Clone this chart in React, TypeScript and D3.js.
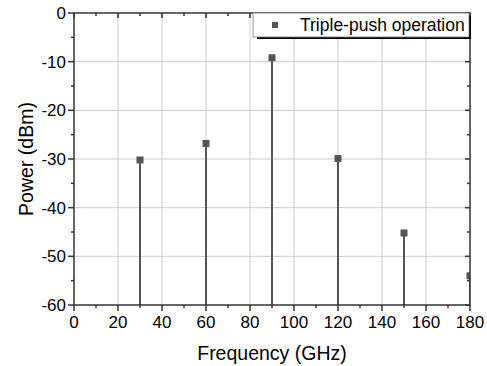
import React from "react";
import * as d3 from "d3";

const frequencies = [30, 60, 90, 120, 150, 180];
const powers = [-30.2, -26.8, -9.2, -29.9, -45.2, -54.0];
const xTicks = [0, 20, 40, 60, 80, 100, 120, 140, 160, 180];
const yTicks = [0, -10, -20, -30, -40, -50, -60];
const seriesName = "Triple-push operation";

export default function App() {
  const W = 487, H = 366;
  const L = 74, R = 470, T = 13, B = 305;
  const x = d3.scaleLinear().domain([0, 180]).range([L, R]);
  const y = d3.scaleLinear().domain([0, -60]).range([T, B]);
  const xMinor = d3.range(10, 180, 20);
  const yMinor = d3.range(-5, -60, -10);
  const axisColor = "#333";
  const markColor = "#555";
  const font = "Arial, 'Liberation Sans', sans-serif";
  return (
    <svg width={W} height={H} style={{ position: "absolute", left: 0, top: 0 }} fontFamily={font}>
      <rect width={W} height={H} fill="white" />
      <defs>
        <clipPath id="plotclip">
          <rect x={L} y={T} width={R - L} height={B - T} />
        </clipPath>
      </defs>
      {/* grid */}
      {xTicks.filter(t => t > 0 && t < 180).map(t => (
        <line key={"gx" + t} x1={x(t)} x2={x(t)} y1={T} y2={B} stroke="#cccccc" strokeWidth={1} />
      ))}
      {yTicks.filter(t => t < 0 && t > -60).map(t => (
        <line key={"gy" + t} x1={L} x2={R} y1={y(t)} y2={y(t)} stroke="#cccccc" strokeWidth={1} />
      ))}
      {/* stems */}
      <g clipPath="url(#plotclip)">
        {frequencies.map((f, i) => (
          <line key={"s" + f} x1={x(f)} x2={x(f)} y1={B} y2={y(powers[i])} stroke={markColor} strokeWidth={2} />
        ))}
        {frequencies.map((f, i) => (
          <rect key={"m" + f} x={x(f) - 3.5} y={y(powers[i]) - 3.5} width={7} height={7} fill={markColor} />
        ))}
      </g>
      {/* frame */}
      <rect x={L} y={T} width={R - L} height={B - T} fill="none" stroke={axisColor} strokeWidth={1.5} />
      {/* bottom ticks (outward) */}
      {xTicks.map(t => (
        <line key={"bt" + t} x1={x(t)} x2={x(t)} y1={B} y2={B + 6} stroke={axisColor} strokeWidth={1.5} />
      ))}
      {xMinor.map(t => (
        <line key={"bm" + t} x1={x(t)} x2={x(t)} y1={B} y2={B + 3} stroke={axisColor} strokeWidth={1.5} />
      ))}
      {/* top ticks (inward) */}
      {xTicks.map(t => (
        <line key={"tt" + t} x1={x(t)} x2={x(t)} y1={T} y2={T + 5} stroke={axisColor} strokeWidth={1.5} />
      ))}
      {xMinor.map(t => (
        <line key={"tm" + t} x1={x(t)} x2={x(t)} y1={T} y2={T + 3} stroke={axisColor} strokeWidth={1.5} />
      ))}
      {/* left ticks (outward) */}
      {yTicks.map(t => (
        <line key={"lt" + t} x1={L - 6} x2={L} y1={y(t)} y2={y(t)} stroke={axisColor} strokeWidth={1.5} />
      ))}
      {yMinor.map(t => (
        <line key={"lm" + t} x1={L - 3} x2={L} y1={y(t)} y2={y(t)} stroke={axisColor} strokeWidth={1.5} />
      ))}
      {/* right ticks (inward) */}
      {yTicks.map(t => (
        <line key={"rt" + t} x1={R - 5} x2={R} y1={y(t)} y2={y(t)} stroke={axisColor} strokeWidth={1.5} />
      ))}
      {yMinor.map(t => (
        <line key={"rm" + t} x1={R - 3} x2={R} y1={y(t)} y2={y(t)} stroke={axisColor} strokeWidth={1.5} />
      ))}
      {/* tick labels */}
      {xTicks.map(t => (
        <text key={"xl" + t} x={x(t)} y={B + 23} textAnchor="middle" fontSize={17} fill="#000">{t}</text>
      ))}
      {yTicks.map(t => (
        <text key={"yl" + t} x={L - 8} y={y(t) + 6} textAnchor="end" fontSize={17} fill="#000">{t}</text>
      ))}
      {/* axis titles */}
      <text x={272} y={360} textAnchor="middle" fontSize={19.5} fill="#000">Frequency (GHz)</text>
      <text transform={`translate(33, ${(T + B) / 2}) rotate(-90)`} textAnchor="middle" fontSize={19.5} fill="#000">Power (dBm)</text>
      {/* legend */}
      <rect x={257} y={16} width={214} height={23} fill="#000" />
      <rect x={253} y={13} width={216} height={24} fill="white" stroke="#777" strokeWidth={0.8} />
      <rect x={272} y={22} width={6} height={6} fill={markColor} />
      <text x={300} y={31} fontSize={17.5} fill="#000">{seriesName}</text>
    </svg>
  );
}
